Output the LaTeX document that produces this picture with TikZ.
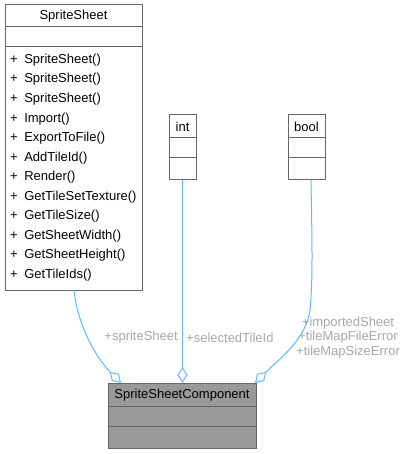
\documentclass[tikz,border=0pt]{standalone}
\usepackage{fontspec}
\setmainfont{Liberation Sans}
\usetikzlibrary{arrows.meta}
\definecolor{bordergray}{HTML}{666666}
\definecolor{edgeblue}{HTML}{63B8FF}
\definecolor{labelgray}{HTML}{A8A8A8}
\definecolor{fillgray}{HTML}{999999}
\tikzset{
  classbox/.style={draw=bordergray, line width=1pt, inner sep=0pt, outer sep=0pt, anchor=north west},
  divider/.style={draw=bordergray, line width=1pt},
  txt/.style={inner sep=0pt, font=\fontsize{13}{14.5}\selectfont, text=black},
  lbl/.style={inner sep=0pt, font=\fontsize{13}{14.5}\selectfont, text=labelgray},
  edge/.style={draw=edgeblue, line width=1pt, -{Diamond[open, length=16pt, width=10pt, line width=1pt]}},
}
\begin{document}
\begin{tikzpicture}[x=1pt, y=-1pt]
\useasboundingbox (0,0) rectangle (405,454);
% SpriteSheet
\node[classbox, minimum width=137pt, minimum height=285pt] (ss) at (5,5) {};
\draw[divider] (ss.west |- 0,27) -- (ss.east |- 0,27);
\draw[divider] (ss.west |- 0,47) -- (ss.east |- 0,47);
\node[txt] (ssname) at (73.5,16.5) {SpriteSheet};
\foreach \m [count=\i from 0] in {SpriteSheet(),SpriteSheet(),SpriteSheet(),Import(),ExportToFile(),AddTileId(),Render(),GetTileSetTexture(),GetTileSize(),GetSheetWidth(),GetSheetHeight(),GetTileIds()}{
  \node[txt, anchor=west] (ssm\i) at (10,{60+19.55*\i}) {+\hspace{6.5pt}\m};
}
% int
\node[classbox, minimum width=27pt, minimum height=65pt] (int) at (169,115) {};
\draw[divider] (int.west |- 0,138) -- (int.east |- 0,138);
\draw[divider] (int.west |- 0,158) -- (int.east |- 0,158);
\node[txt] (intname) at (182.5,127) {int};
% bool
\node[classbox, minimum width=37pt, minimum height=65pt] (bool) at (288,115) {};
\draw[divider] (bool.west |- 0,138) -- (bool.east |- 0,138);
\draw[divider] (bool.west |- 0,158) -- (bool.east |- 0,158);
\node[txt] (boolname) at (306.5,127) {bool};
% SpriteSheetComponent
\node[classbox, fill=fillgray, minimum width=148pt, minimum height=65pt] (ssc) at (108,383) {};
\draw[divider] (ssc.west |- 0,406) -- (ssc.east |- 0,406);
\draw[divider] (ssc.west |- 0,426) -- (ssc.east |- 0,426);
\node[txt] (sscname) at (182,395) {SpriteSheetComponent};
% attachment points
\coordinate (sscA) at (ssc.north west -| 121,0);
\coordinate (sscB) at (ssc.north west -| 182.5,0);
\coordinate (sscC) at (ssc.north west -| 255,0);
% edges
\draw[edge] (ss.south -| 74,0) .. controls (78,330) and (100,362) .. (sscA);
\draw[edge] (int.south) -- (sscB);
\draw[edge] (bool.south -| 311,0) .. controls (312,240) and (313,280) .. (310,310)
   .. controls (306,340) and (278,360) .. (sscC);
% labels
\node[lbl, anchor=east] (l1) at (178,337.5) {+spriteSheet};
\node[lbl, anchor=west] (l2) at (186,337.5) {+selectedTileId};
\node[lbl, align=center] (l3) at (348,337.5) {+importedSheet\\+tileMapFileError\\+tileMapSizeError};
\end{tikzpicture}
\end{document}
